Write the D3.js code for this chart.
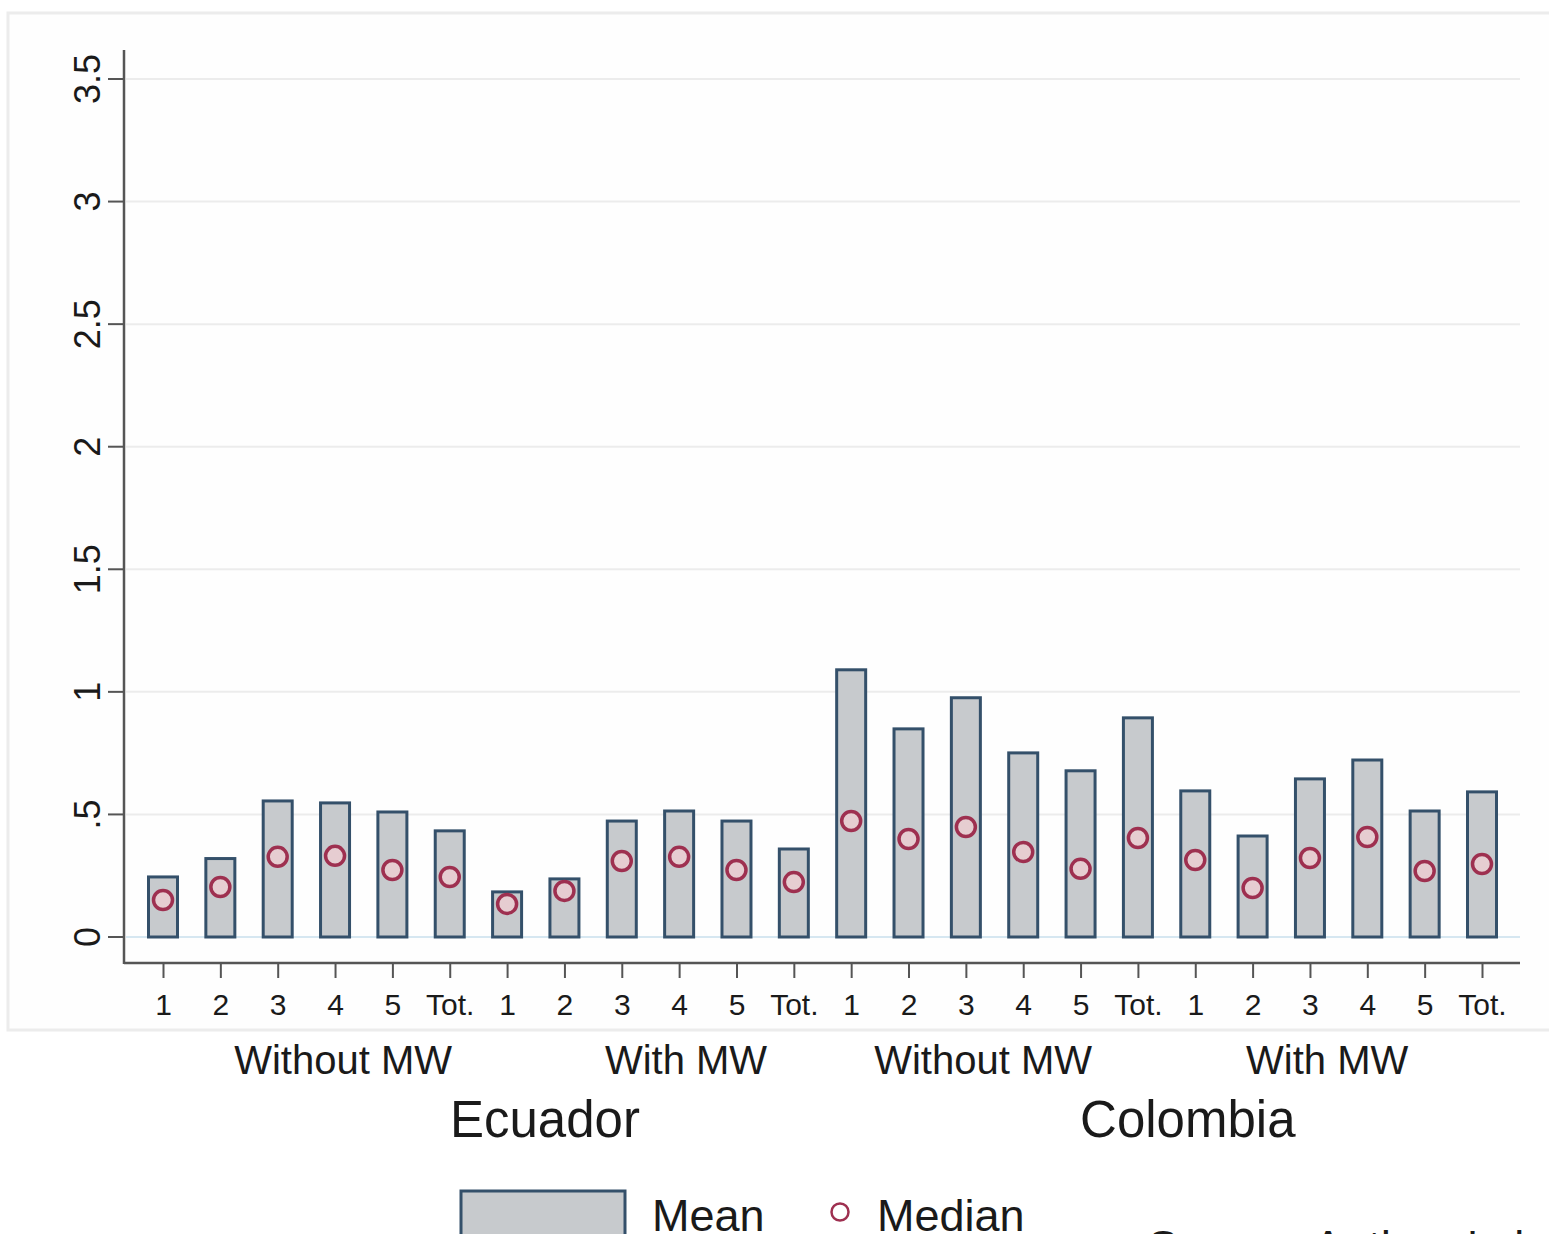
<!DOCTYPE html>
<html>
<head>
<meta charset="utf-8">
<script src="https://cdn.jsdelivr.net/npm/d3@7"></script>
<style>
  body { margin: 0; background: #fff; }
  text { font-family: "Liberation Sans", Arial, sans-serif; fill: #1a1a1a; }
</style>
</head>
<body>
<div id="chart"></div>
<script>
var width = 1549, height = 1234;

// categories (quintiles + total) for each of the four panels
var categories = ['1', '2', '3', '4', '5', 'Tot.',
                  '1', '2', '3', '4', '5', 'Tot.',
                  '1', '2', '3', '4', '5', 'Tot.',
                  '1', '2', '3', '4', '5', 'Tot.'];
var meanValues = [0.245, 0.32, 0.555, 0.547, 0.51, 0.433,
                  0.184, 0.237, 0.473, 0.514, 0.473, 0.359,
                  1.09, 0.849, 0.976, 0.751, 0.678, 0.894,
                  0.596, 0.412, 0.645, 0.722, 0.514, 0.592];
var medianValues = [0.151, 0.204, 0.327, 0.331, 0.273, 0.245,
                    0.135, 0.188, 0.31, 0.327, 0.273, 0.224,
                    0.473, 0.4, 0.449, 0.347, 0.278, 0.404,
                    0.314, 0.2, 0.322, 0.408, 0.269, 0.298];
var yTicks = [0, 0.5, 1, 1.5, 2, 2.5, 3, 3.5];
var yTickLabels = ['0', '.5', '1', '1.5', '2', '2.5', '3', '3.5'];
var groupLabels = ['Without MW', 'With MW', 'Without MW', 'With MW'];
var groupLabelPos = [3.14, 9.12, 14.3, 20.3];   // in category index units
var countryLabels = ['Ecuador', 'Colombia'];
var countryLabelPos = [6.66, 17.87];

var plot = {left: 124, right: 1520, top: 50, bottom: 963};

var svg = d3.select('#chart').append('svg')
    .attr('width', width)
    .attr('height', height);

// faint graph region frame
svg.append('rect')
    .attr('x', 8).attr('y', 13)
    .attr('width', width).attr('height', 1017)
    .style('fill', '#fefefe')
    .style('stroke', '#ececec')
    .style('stroke-width', 3);

var idx = categories.map((d, i) => i);

var x = d3.scalePoint()
    .domain(idx)
    .range([163, 1482]);

var xi = d3.scaleLinear()
    .domain([0, categories.length - 1])
    .range([163, 1482]);

var y = d3.scaleLinear()
    .domain([0, 3.5])
    .range([937, 79]);

// gridlines
svg.append('g')
    .selectAll('line')
    .data(yTicks)
    .enter()
    .append('line')
    .attr('x1', plot.left + 2)
    .attr('x2', plot.right)
    .attr('y1', d => y(d))
    .attr('y2', d => y(d))
    .style('stroke', d => d == 0 ? '#d6e7f1' : '#ececec')
    .style('stroke-width', 2);

// y axis
var yAxis = d3.axisLeft(y)
    .tickValues(yTicks)
    .tickSize(16)
    .tickPadding(8)
    .tickFormat((d, i) => yTickLabels[i]);

var gy = svg.append('g')
    .attr('transform', `translate(${plot.left}, 0)`)
    .call(yAxis);
gy.select('.domain').remove();
gy.selectAll('.tick line').style('stroke', '#555').style('stroke-width', 2);
gy.selectAll('.tick text')
    .attr('transform', d => `translate(${-37}, ${y(d)}) rotate(-90)`)
    .attr('x', 0).attr('y', 0)
    .attr('dy', '0.36em')
    .style('text-anchor', 'middle')
    .style('font-size', '36px')
    .style('fill', '#1a1a1a');
gy.selectAll('.tick').attr('transform', null);
gy.selectAll('.tick line').attr('y1', d => y(d)).attr('y2', d => y(d));

// x axis
var xAxis = d3.axisBottom(x)
    .tickSize(15)
    .tickPadding(16)
    .tickFormat(i => categories[i]);

var gx = svg.append('g')
    .attr('transform', `translate(0, ${plot.bottom})`)
    .call(xAxis);
gx.select('.domain').remove();
gx.selectAll('.tick line').style('stroke', '#555').style('stroke-width', 2);
gx.selectAll('.tick text')
    .style('font-size', '30px')
    .style('fill', '#1a1a1a');

// axis lines
svg.append('line')
    .attr('x1', plot.left).attr('x2', plot.left)
    .attr('y1', plot.top).attr('y2', plot.bottom + 1)
    .style('stroke', '#555').style('stroke-width', 2.5);
svg.append('line')
    .attr('x1', plot.left).attr('x2', plot.right)
    .attr('y1', plot.bottom).attr('y2', plot.bottom)
    .style('stroke', '#555').style('stroke-width', 2.5);

// bars (mean)
var barW = 29;
svg.selectAll('rect.bar')
    .data(meanValues)
    .enter()
    .append('rect')
    .attr('class', 'bar')
    .attr('x', (d, i) => x(i) - barW / 2)
    .attr('y', d => y(d))
    .attr('width', barW)
    .attr('height', d => y(0) - y(d))
    .style('fill', '#c7cacd')
    .style('stroke', '#34506a')
    .style('stroke-width', 3);

// median markers
svg.selectAll('circle.median')
    .data(medianValues)
    .enter()
    .append('circle')
    .attr('class', 'median')
    .attr('cx', (d, i) => x(i))
    .attr('cy', d => y(d))
    .attr('r', 9.5)
    .style('fill', '#e6cdd1')
    .style('stroke', '#9e3050')
    .style('stroke-width', 3.5);

// group labels
svg.selectAll('text.group')
    .data(groupLabels)
    .enter()
    .append('text')
    .attr('class', 'group')
    .attr('x', (d, i) => xi(groupLabelPos[i]))
    .attr('y', 1074)
    .style('text-anchor', 'middle')
    .style('font-size', '40px')
    .text(d => d);

svg.selectAll('text.country')
    .data(countryLabels)
    .enter()
    .append('text')
    .attr('class', 'country')
    .attr('x', (d, i) => xi(countryLabelPos[i]))
    .attr('y', 1137)
    .style('text-anchor', 'middle')
    .style('font-size', '51px')
    .text(d => d);

// legend
var legend = svg.append('g');
legend.append('rect')
    .attr('x', 461).attr('y', 1191)
    .attr('width', 164).attr('height', 52)
    .style('fill', '#c7cacd')
    .style('stroke', '#34506a')
    .style('stroke-width', 3);
legend.append('text')
    .attr('x', 652).attr('y', 1231)
    .style('font-size', '45px')
    .text('Mean');
legend.append('circle')
    .attr('cx', 840).attr('cy', 1212)
    .attr('r', 8.5)
    .style('fill', '#fff')
    .style('stroke', '#9e3050')
    .style('stroke-width', 2.5);
legend.append('text')
    .attr('x', 877).attr('y', 1231)
    .style('font-size', '45px')
    .text('Median');

// source note, cut by the picture's lower edge
svg.append('text')
    .attr('x', 1148).attr('y', 1262)
    .style('font-size', '45px')
    .text("Source: Authors' elaboration");
</script>
</body>
</html>
